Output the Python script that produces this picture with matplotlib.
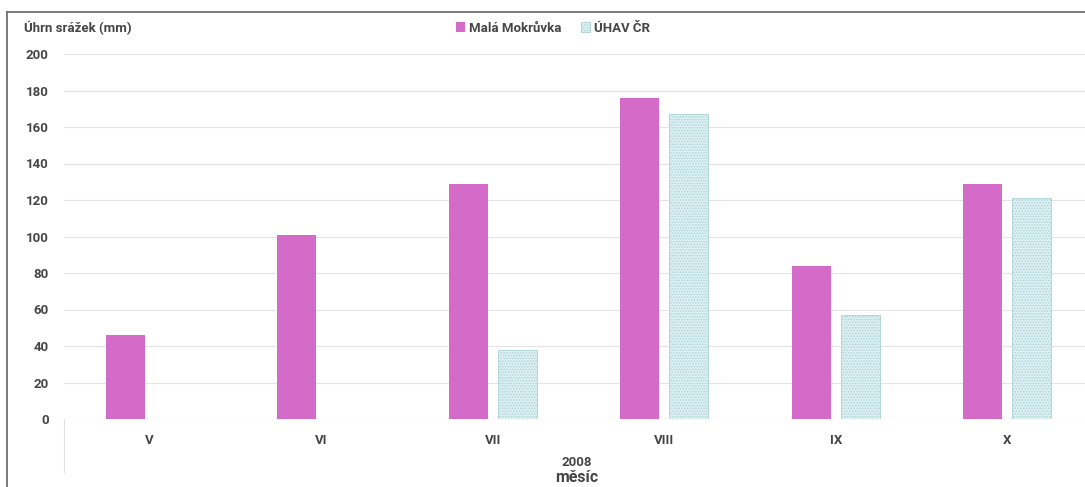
import matplotlib
matplotlib.use("Agg")
import matplotlib.pyplot as plt
from matplotlib.lines import Line2D
from matplotlib.patches import Rectangle
import numpy as np

months = ["V", "VI", "VII", "VIII", "IX", "X"]
mala_mokruvka = [46, 101, 129, 176, 84, 129]
uhav_cr = [0, 0, 38, 167, 57, 121]
series_names = ["Malá Mokrůvka", "ÚHAV ČR"]
yticks = [0, 20, 40, 60, 80, 100, 120, 140, 160, 180, 200]

plt.rcParams['font.family'] = ['Roboto', 'DejaVu Sans']
plt.rcParams['hatch.linewidth'] = 0.7
plt.rcParams['hatch.color'] = '#8fc0c4'

pink = '#d46bc8'
cyan = '#dcf0f2'
txt = '#454545'

fig = plt.figure(figsize=(10.85, 4.87), dpi=100)
ax = fig.add_axes([64 / 1085, 68 / 487, 1029 / 1085, 365 / 487])

x = np.arange(len(months))
w = 0.227
off = 0.142
ax.bar(x - off, mala_mokruvka, width=w, color=pink, zorder=3)
ax.bar(x + off, uhav_cr, width=w, color=cyan, hatch='......', edgecolor='#a9d3d6',
       linewidth=0.6, zorder=3)

ax.set_xlim(-0.5, len(months) - 0.5)
ax.set_ylim(0, 200)
ax.set_yticks(yticks)
ax.set_xticks(x)
ax.set_xticklabels(months)
ax.grid(axis='y', color='#e4e4e4', linewidth=0.8, zorder=0)
for s in ax.spines.values():
    s.set_visible(False)
ax.axhline(0, color='#e0e0e0', linewidth=0.8, zorder=2)
ax.plot([0, 0], [0, -0.145], transform=ax.transAxes, color='#e0e0e0',
        linewidth=0.8, clip_on=False)
ax.tick_params(axis='both', length=0, labelsize=9.5, labelcolor=txt)
ax.tick_params(axis='y', pad=11)
ax.tick_params(axis='x', pad=11)
for lb in ax.get_xticklabels() + ax.get_yticklabels():
    lb.set_fontweight('bold')

fig.text(24 / 1085, 1 - 28 / 487, "Úhrn srážek (mm)", fontsize=9.5, color=txt,
         fontweight='bold', va='center', ha='left')
fig.text(577 / 1085, 1 - 463 / 487, "2008", fontsize=9.5, color=txt,
         fontweight='bold', va='center', ha='center')
fig.text(577 / 1085, 1 - 478 / 487, "měsíc", fontsize=11.5, color=txt,
         fontweight='bold', va='center', ha='center')

# legend
handles = [Rectangle((0, 0), 1, 1, facecolor=pink),
           Rectangle((0, 0), 1, 1, facecolor=cyan, hatch='......', edgecolor='#a9d3d6', linewidth=0.6)]
leg = fig.legend(handles, series_names, loc='center', bbox_to_anchor=(553 / 1085, 1 - 28 / 487),
                 ncol=2, frameon=False, fontsize=9.5, handlelength=0.7, handleheight=0.7,
                 handletextpad=0.3, columnspacing=1.5)
for t in leg.get_texts():
    t.set_color(txt)
    t.set_fontweight('bold')

# outer frame (cropped at right and bottom)
fig.add_artist(Line2D([7 / 1085, 7 / 1085], [0, 1 - 12 / 487], color='#707070', linewidth=1.3))
fig.add_artist(Line2D([7 / 1085, 1], [1 - 12 / 487, 1 - 12 / 487], color='#707070', linewidth=1.3))

fig.savefig("out.png", dpi=100)
